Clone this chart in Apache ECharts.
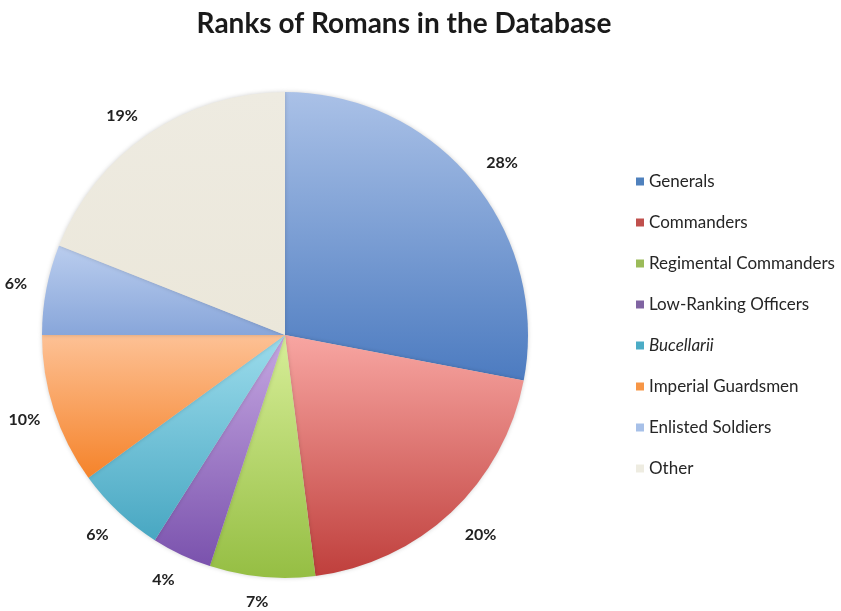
<!DOCTYPE html>
<html><head><meta charset="utf-8">
<script src="https://cdn.jsdelivr.net/npm/echarts@6/dist/echarts.min.js"></script>
<style>html,body{margin:0;padding:0;background:#fff}#c{width:841px;height:611px}</style>
</head><body><div id="c"></div>
<script>
const categories = ['Generals','Commanders','Regimental Commanders','Low-Ranking Officers','Bucellarii','Imperial Guardsmen','Enlisted Soldiers','Other'];
const values = [28, 20, 7, 4, 6, 10, 6, 19];
const topColors = ['#aac1e7','#f8a6a2','#d7ee98','#c6a8e2','#9cdcec','#fdc195','#bacdee','#eeebe1'];
const bottomColors = ['#4c7bc0','#bf3f3c','#95be43','#7a52ad','#48a7c2','#f5832a','#88a6da','#ebe7da'];
const legendColors = ['#4f81bd','#c0504d','#9bbb59','#8064a2','#4bacc6','#f79646','#a7c0e8','#eeece1'];

const chart = echarts.init(document.getElementById('c'));
const font = 'Lato, "Open Sans", sans-serif';
const data = categories.map((n,i)=>({
  name:n, value:values[i],
  itemStyle:{color:{type:'linear',x:0,y:0,x2:0,y2:1,colorStops:[{offset:0,color:topColors[i]},{offset:1,color:bottomColors[i]}]}}
}));
const labelOffsets = {'Generals':[6,2],'Commanders':[8,0],'Regimental Commanders':[-2,-6],'Low-Ranking Officers':[-5,-3],'Other':[-9,7]};
chart.setOption({
  animation:false,
  title:{text:'Ranks of Romans in the Database',left:399,textAlign:'center',top:5,
    textStyle:{fontFamily:font,fontWeight:'bold',fontSize:28,color:'#1a1a1a'}},
  legend:{orient:'vertical',left:631,top:168,itemWidth:8,itemHeight:8,itemGap:24,icon:'rect',
    data:categories.map((n,i)=>({name:n,itemStyle:{color:legendColors[i]}})),
    formatter:n=> n==='Bucellarii' ? '{i|'+n+'}' : n,
    textStyle:{fontFamily:font,fontSize:17,color:'#262626',lineHeight:17,
      rich:{i:{fontStyle:'italic',fontFamily:font,fontSize:17,color:'#262626',lineHeight:17}}}},
  series:[{
    type:'pie',center:[285,335],radius:243,startAngle:90,clockwise:true,
    label:{show:false},labelLine:{show:false},
    itemStyle:{borderWidth:0,shadowBlur:4,shadowColor:'rgba(0,0,0,0.18)'},
    data:data
  },{
    type:'pie',center:[285,335],radius:[245,297],startAngle:90,clockwise:true,silent:true,
    itemStyle:{color:'rgba(0,0,0,0)'},
    label:{show:true,position:'inside',formatter:'{c}%',fontFamily:font,fontWeight:'bold',fontSize:16,color:'#222'},
    labelLine:{show:false},
    data:categories.map((n,i)=>({name:n,value:values[i],
      label: labelOffsets[n] ? {offset:labelOffsets[n]} : {}}))
  }]
});
</script></body></html>
